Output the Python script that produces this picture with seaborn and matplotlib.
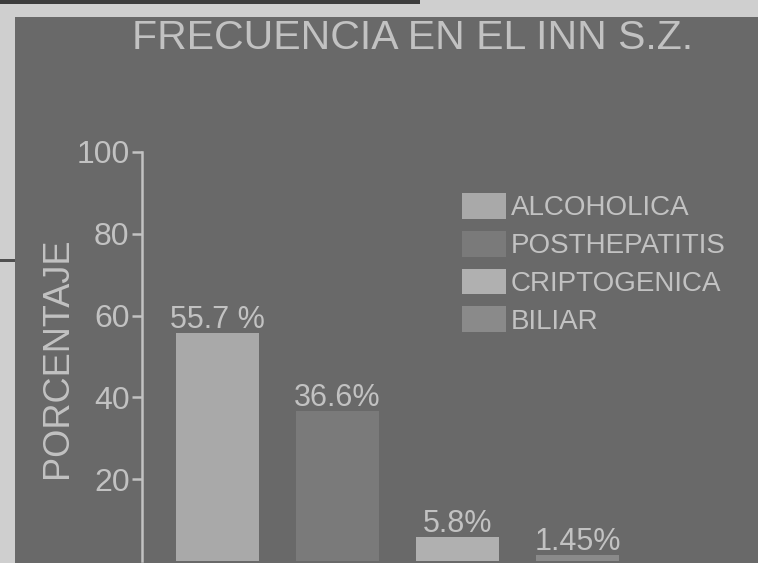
import matplotlib
matplotlib.use("Agg")
import matplotlib.pyplot as plt
import seaborn as sns
import pandas as pd
from matplotlib.patches import Patch, Rectangle

categories = ["ALCOHOLICA", "POSTHEPATITIS", "CRIPTOGENICA", "BILIAR"]
values = [55.7, 36.6, 5.8, 1.45]
value_labels = ["55.7 %", "36.6%", "5.8%", "1.45%"]
yticks = [20, 40, 60, 80, 100]
title = "FRECUENCIA EN EL INN S.Z."
ylabel = "PORCENTAJE"

bar_colors = ["#a9a9a9", "#7a7a7a", "#b0b0b0", "#8a8a8a"]
BG = "#696969"
TXT = "#c2c2c2"

sns.set_style("dark")
plt.rcParams["font.family"] = ["Liberation Sans", "DejaVu Sans"]

W, H = 758, 563
fig = plt.figure(figsize=(W / 100, H / 100), dpi=100, facecolor="#cfcfcf")
# slide area and photo edges
fig.patches.append(Rectangle((15 / W, 0), 1, 1 - 17 / H, transform=fig.transFigure,
                             facecolor=BG, edgecolor="none", zorder=-10))
fig.patches.append(Rectangle((0, 1 - 4 / H), 420 / W, 4 / H, transform=fig.transFigure,
                             facecolor="#3c3c3c", edgecolor="none", zorder=-10))
fig.patches.append(Rectangle((0, 1 - 262 / H), 15 / W, 3 / H, transform=fig.transFigure,
                             facecolor="#505050", edgecolor="none", zorder=-10))

ax = fig.add_axes([142 / W, 2 / H, 1 - 142 / W, (561 - 152) / H])
ax.set_facecolor("none")
ax.set_zorder(2)

df = pd.DataFrame({"tipo": categories, "pct": values})
sns.barplot(data=df, x="tipo", y="pct", hue="tipo", palette=bar_colors, width=0.69,
            saturation=1, legend=False, linewidth=0, edgecolor="none", ax=ax)

ax.set_xlim(-0.625, 4.5)
ax.set_ylim(0, 100)
ax.set_yticks(yticks)
ax.set_xticks([])
ax.set_xlabel("")
ax.set_ylabel("")
ax.grid(False)
for s in ["top", "right", "bottom"]:
    ax.spines[s].set_visible(False)
ax.spines["left"].set_color(TXT)
ax.spines["left"].set_linewidth(1.8)
ax.tick_params(axis="y", colors=TXT, labelsize=23, length=7, width=1.8, pad=2,
               direction="out", left=True)

for i, (v, lab) in enumerate(zip(values, value_labels)):
    ax.annotate(lab, (i, v), xytext=(0, 4), textcoords="offset points",
                ha="center", va="baseline", fontsize=22, color=TXT)

fig.text(0.544, 1 - 38 / H, title, ha="center", va="center", fontsize=29.5, color=TXT)
fig.text(57 / W, 1 - 358 / H, ylabel, ha="center", va="center", rotation=90,
         fontsize=26, color=TXT)

handles = [Patch(facecolor=c, edgecolor="none", label=cat)
           for c, cat in zip(bar_colors, categories)]
fig.legend(handles=handles, loc="upper left", bbox_to_anchor=(462 / W, 1 - 193 / H),
           bbox_transform=fig.transFigure, frameon=False, fontsize=20,
           handlelength=1.6, handleheight=1.05, handletextpad=0.15,
           labelspacing=0.34, borderpad=0, borderaxespad=0, labelcolor=TXT)

fig.savefig("out.png", dpi=100, facecolor=fig.get_facecolor())
